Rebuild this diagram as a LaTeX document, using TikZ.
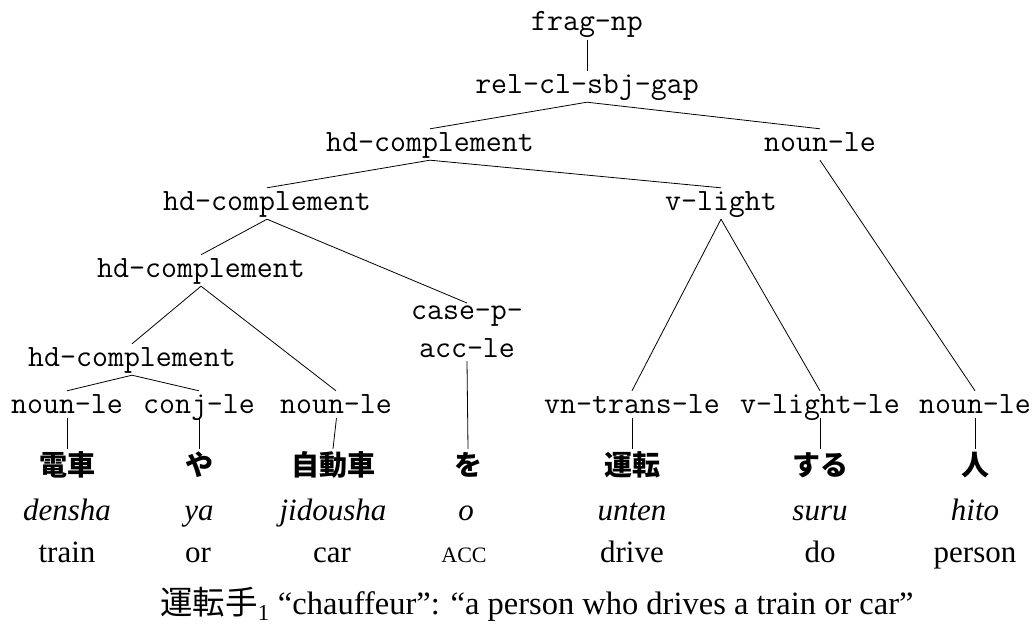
\documentclass[tikz,border=0pt]{standalone}
\usepackage{fontspec}
\setmainfont{Liberation Serif}
\newfontfamily\jp{Noto Sans CJK JP}
\begin{document}
\begin{tikzpicture}[x=1pt,y=-1pt,
  tl/.style={font=\ttfamily\fontsize{31}{38}\selectfont, anchor=base, inner sep=3pt, text height=19pt, text depth=6pt},
  ml/.style={font=\ttfamily\fontsize{31}{38}\selectfont, align=center, inner sep=3pt, anchor=north},
  jw/.style={font=\jp\bfseries\fontsize{28}{32}\selectfont, anchor=base, inner sep=2pt, text height=24pt, text depth=3pt},
  rm/.style={font=\itshape\fontsize{31}{36}\selectfont, anchor=base, inner sep=0pt},
  gl/.style={font=\fontsize{31}{36}\selectfont, anchor=base, inner sep=0pt},
  edge/.style={line width=0.8pt}]
\useasboundingbox (0,0) rectangle (1036,634);
% tree nodes
\node[tl] (frag) at (587,31) {frag-np};
\node[tl] (rel) at (587,93) {rel-cl-sbj-gap};
\node[tl] (hd2) at (430,151) {hd-complement};
\node[tl] (nt) at (820,151) {noun-le};
\node[tl] (hd3) at (267,210) {hd-complement};
\node[tl] (vl) at (721,210) {v-light};
\node[tl] (hd4) at (201,277) {hd-complement};
\node[ml] (cp) at (467,303) {case-p-\\acc-le};
\node[tl] (hd5) at (132,366) {hd-complement};
% leaves
\node[tl] (l1) at (67,413) {noun-le};
\node[tl] (l2) at (199,413) {conj-le};
\node[tl] (l3) at (336,413) {noun-le};
\node[tl] (l5) at (632,413) {vn-trans-le};
\node[tl] (l6) at (820,413) {v-light-le};
\node[tl] (l7) at (975,413) {noun-le};
% words
\node[jw] (w1) at (67,475) {電車};
\node[jw] (w2) at (199,475) {や};
\node[jw] (w3) at (333,475) {自動車};
\node[jw] (w4) at (468,475) {を};
\node[jw] (w5) at (632,475) {運転};
\node[jw] (w6) at (820,475) {する};
\node[jw] (w7) at (975,475) {人};
% romanisation
\node[rm] (r1) at (67,520) {densha};
\node[rm] (r2) at (199,520) {ya};
\node[rm] (r3) at (333,520) {jidousha};
\node[rm] (r4) at (466,520) {o};
\node[rm] (r5) at (632,520) {unten};
\node[rm] (r6) at (820,520) {suru};
\node[rm] (r7) at (975,520) {hito};
% glosses
\node[gl] (g1) at (67,562) {train};
\node[gl] (g2) at (198,562) {or};
\node[gl] (g3) at (332,562) {car};
\node[gl] (g4) at (464,562) {\fontsize{22}{26}\selectfont ACC};
\node[gl] (g5) at (632,562) {drive};
\node[gl] (g6) at (820,562) {do};
\node[gl] (g7) at (975,562) {person};
% caption
\node[gl, font=\fontsize{32.5}{38}\selectfont] (cap) at (537,614) {{\jp 運転手}\textsubscript{1} “chauffeur”: “a person who drives a train or car”};
% edges
\draw[edge] (frag.south) -- (rel.north);
\draw[edge] (rel.south) -- (hd2.north);
\draw[edge] (rel.south) -- (nt.north);
\draw[edge] (hd2.south) -- (hd3.north);
\draw[edge] (hd2.south) -- (vl.north);
\draw[edge] (nt.south) -- (l7.north);
\draw[edge] (hd3.south) -- (hd4.north);
\draw[edge] (hd3.south) -- (cp.north);
\draw[edge] (vl.south) -- (l5.north);
\draw[edge] (vl.south) -- (l6.north);
\draw[edge] (hd4.south) -- (hd5.north);
\draw[edge] (hd4.south) -- (l3.north);
\draw[edge] (hd5.south) -- (l1.north);
\draw[edge] (hd5.south) -- (l2.north);
\draw[edge] (cp.south) -- (w4.north);
\foreach \a/\b in {l1/w1,l2/w2,l3/w3,l5/w5,l6/w6,l7/w7}
  \draw[edge, shorten <=-4pt] (\a.south) -- (\b.north);
\end{tikzpicture}
\end{document}
